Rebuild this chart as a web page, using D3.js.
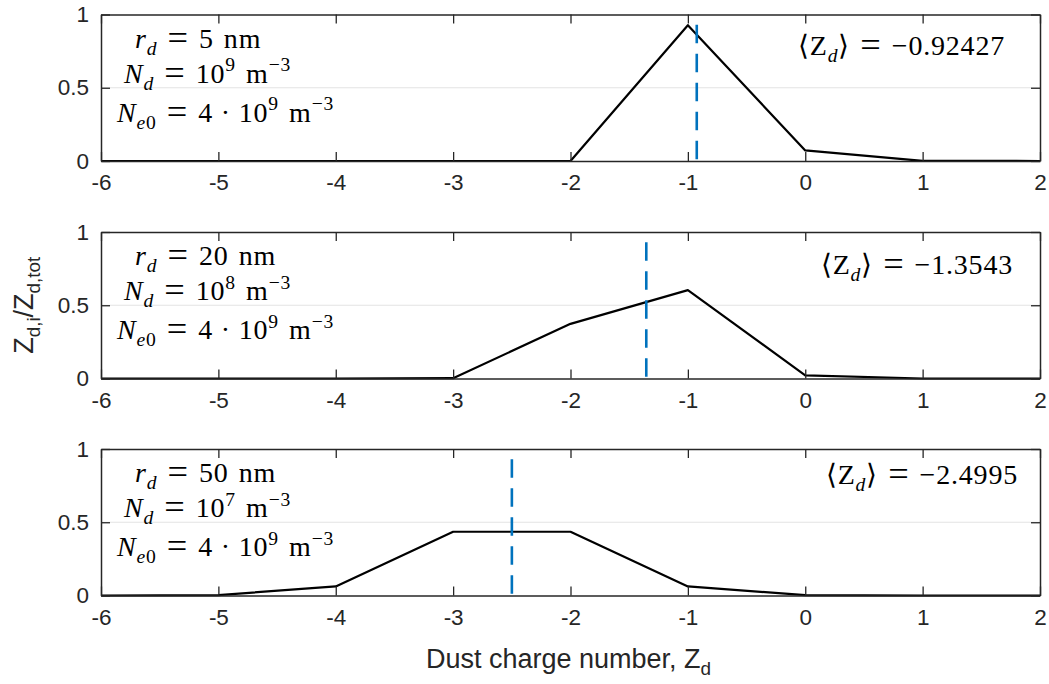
<!DOCTYPE html>
<html>
<head>
<meta charset="utf-8">
<title>Dust charge distribution</title>
<script src="https://d3js.org/d3.v7.min.js"></script>
<style>
  body { margin: 0; background: #fff; }
  text { white-space: pre; }
</style>
</head>
<body>
<div id="chart"></div>
<script>
// charge states on the x axis
const charges = [-6, -5, -4, -3, -2, -1, 0, 1, 2];
// fraction of dust grains in each charge state, one list per panel
const fracR5 = [0, 0, 0, 0, 0, 0.927, 0.072, 0.001, 0];
const fracR20 = [0, 0, 0, 0.002, 0.373, 0.603, 0.022, 0, 0];
const fracR50 = [0, 0.003, 0.062, 0.435, 0.435, 0.062, 0.003, 0, 0];
const meanZ = [-0.92427, -1.3543, -2.4995];
const meanZLabels = ["\u22120.92427", "\u22121.3543", "\u22122.4995"];
const radii = ["5", "20", "50"];
const densExp = ["9", "8", "7"];
const xTicks = [-6, -5, -4, -3, -2, -1, 0, 1, 2];
const yTicks = [0, 0.5, 1];
const meanLineTop = 0.93;

const W = 1049, H = 684;
const left = 101, right = 1040;
const panelTop = [14.5, 232, 449];
const panelH = 146.5;
// where the right-hand <Z_d> label sits (end x, baseline offset from top)
const meanLabelPos = [[1005, 40], [1013, 42], [1018, 35]];

const svg = d3.select("#chart").append("svg")
  .attr("width", W).attr("height", H);

const x = d3.scaleLinear().domain([-6, 2]).range([left, right]);

const tickFont = "'Liberation Sans', Arial, Helvetica, sans-serif";
const texFont = "'Liberation Serif', 'Times New Roman', serif";
const GAP = "\u2004";   // ~1/3 em, like TeX's thick space
const DOT = "\u2005\u00b7\u2005";

// text with italic / sub / superscript pieces; "q" = big relation sign
function rich(sel, parts, fs) {
  let shift = 0;
  parts.forEach(([s, k]) => {
    const sub = k.includes("b"), sup = k.includes("p"), rel = k.includes("q");
    const target = sub ? fs * 0.25 : sup ? -fs * 0.4 : rel ? fs * 0.08 : 0;
    const t = sel.append("tspan").text(s).attr("dy", target - shift);
    shift = target;
    if (sub || sup) t.attr("font-size", fs * 0.7);
    if (rel) t.attr("font-size", fs * 1.3);
    if (k[0] === "i") t.attr("font-style", "italic");
  });
}
const EQ = [["=", "rq"]];

const series = [fracR5, fracR20, fracR50];

series.forEach((frac, i) => {
  const top = panelTop[i];
  const y = d3.scaleLinear().domain([0, 1]).range([top + panelH, top]);
  const g = svg.append("g");

  // grid line
  g.selectAll(".grid").data(yTicks.filter(v => v > 0 && v < 1)).join("line")
    .attr("x1", left).attr("x2", right)
    .attr("y1", d => y(d)).attr("y2", d => y(d))
    .attr("stroke", "#e3e3e3").attr("stroke-width", 1.2);

  // data line
  const line = d3.line().x(d => x(d[0])).y(d => y(d[1]));
  g.append("path")
    .datum(charges.map((c, j) => [c, frac[j]]))
    .attr("d", line)
    .attr("fill", "none")
    .attr("stroke", "#000")
    .attr("stroke-width", 2.2)
    .attr("stroke-linejoin", "round");

  // mean charge
  g.append("line")
    .attr("x1", x(meanZ[i])).attr("x2", x(meanZ[i]))
    .attr("y1", y(meanLineTop)).attr("y2", y(0))
    .attr("stroke", "#0072BD")
    .attr("stroke-width", 2.6)
    .attr("stroke-dasharray", "18.5,10.5");

  // axes, ticks inward, box
  const ax = g.append("g");
  const bx = ax.append("g").attr("transform", `translate(0,${y(0)})`)
    .call(d3.axisBottom(x).tickValues(xTicks).tickSizeInner(-9).tickSizeOuter(0).tickPadding(17)
      .tickFormat(d => String(d)));
  ax.append("g").attr("transform", `translate(0,${y(1)})`)
    .call(d3.axisTop(x).tickValues(xTicks).tickSizeInner(-9).tickSizeOuter(0).tickFormat(""));
  ax.append("g").attr("transform", `translate(${left},0)`)
    .call(d3.axisLeft(y).tickValues(yTicks).tickSizeInner(-9).tickSizeOuter(0).tickPadding(12)
      .tickFormat(d => String(d)));
  ax.append("g").attr("transform", `translate(${right},0)`)
    .call(d3.axisRight(y).tickValues(yTicks).tickSizeInner(-9).tickSizeOuter(0).tickFormat(""));
  ax.selectAll(".domain").attr("stroke", "#262626").attr("stroke-width", 1.5);
  ax.selectAll(".tick line").attr("stroke", "#262626").attr("stroke-width", 1.3);
  ax.selectAll("g").attr("font-family", tickFont).attr("font-size", 22.5);
  ax.selectAll(".tick text").attr("fill", "#262626");
  bx.selectAll(".tick text").attr("dy", "0.55em");

  // parameter annotation
  const fsA = 28;
  const note = (xPos, yOff) => svg.append("text").attr("x", xPos).attr("y", top + yOff)
    .attr("font-family", texFont).attr("font-size", fsA).attr("fill", "#000")
    .attr("letter-spacing", 0.8);
  rich(note(135, 33), [["r", "i"], ["d", "ib"], [GAP, "r"], ...EQ,
    [GAP + radii[i] + GAP + "nm", "r"]], fsA);
  rich(note(124, 68), [["N", "i"], ["d", "ib"], [GAP, "r"], ...EQ,
    [GAP + "10", "r"], [densExp[i], "rp"], [GAP + "m", "r"], ["\u22123", "rp"]], fsA);
  rich(note(117, 107), [["N", "i"], ["e", "ib"], ["0", "rb"], [GAP, "r"], ...EQ,
    [GAP + "4" + DOT + "10", "r"], ["9", "rp"], [GAP + "m", "r"], ["\u22123", "rp"]], fsA);

  // mean charge label
  const fsM = 28;
  const m = svg.append("text")
    .attr("x", meanLabelPos[i][0]).attr("y", top + meanLabelPos[i][1])
    .attr("text-anchor", "end")
    .attr("font-family", texFont).attr("font-size", fsM).attr("fill", "#000")
    .attr("letter-spacing", 0.8);
  rich(m, [["\u27e8Z", "r"], ["d", "ib"], ["\u27e9" + GAP, "r"], ...EQ,
    [GAP + meanZLabels[i], "r"]], fsM);
});

// axis labels
const xl = svg.append("text")
  .attr("x", (left + right) / 2 - 2).attr("y", 668)
  .attr("text-anchor", "middle")
  .attr("font-family", tickFont).attr("font-size", 27).attr("fill", "#262626");
rich(xl, [["Dust charge number, Z", "r"], ["d", "rb"]], 27);

const yl = svg.append("text")
  .attr("transform", `translate(33,${panelTop[1] + panelH / 2}) rotate(-90)`)
  .attr("text-anchor", "middle")
  .attr("font-family", tickFont).attr("font-size", 27).attr("fill", "#262626");
rich(yl, [["Z", "r"], ["d,i", "rb"], ["/Z", "r"], ["d,tot", "rb"]], 27);
</script>
</body>
</html>
